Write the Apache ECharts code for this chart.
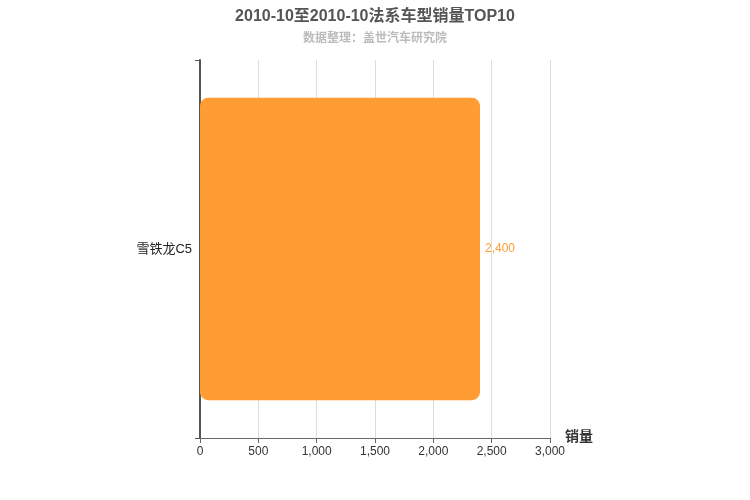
<!DOCTYPE html>
<html>
<head>
<meta charset="UTF-8">
<script src="https://cdn.jsdelivr.net/npm/echarts@6/dist/echarts.min.js"></script>
<style>html,body{margin:0;padding:0;background:#fff}#c{width:750px;height:500px}</style>
</head>
<body>
<div id="c"></div>
<script>
// data
var categories = ['雪铁龙C5'];
var sales = [2400];

var chart = echarts.init(document.getElementById('c'));
chart.setOption({
    textStyle: { fontFamily: 'Arial, "Noto Sans CJK SC", sans-serif' },
    title: {
        text: '2010-10至2010-10法系车型销量TOP10',
        subtext: '数据整理：盖世汽车研究院',
        left: 'center', top: 4,
        textStyle: { fontSize: 16, fontWeight: 'bold', color: '#555' },
        subtextStyle: { fontSize: 12, fontWeight: 'bold', color: '#bbb' },
        itemGap: 8
    },
    grid: { left: 200, right: 200, top: 60, bottom: 62 },
    xAxis: {
        type: 'value', min: 0, max: 3000, interval: 500,
        name: '销量', nameLocation: 'end', nameGap: 15,
        nameTextStyle: { fontSize: 14, fontWeight: 'bold', color: '#333', verticalAlign: 'top', padding: [-8, 0, 0, 0] },
        axisLine: { show: true, lineStyle: { color: '#666' } },
        axisTick: { show: true, lineStyle: { color: '#666' } },
        axisLabel: { color: '#333', fontSize: 12 },
        splitLine: { lineStyle: { color: '#ddd' } }
    },
    yAxis: {
        type: 'category', data: categories,
        axisLine: { lineStyle: { color: '#555', width: 2 } },
        axisTick: { show: true, length: 5 },
        axisLabel: { color: '#222', fontSize: 13 }
    },
    series: [{
        type: 'bar', data: sales, barWidth: '80%',
        itemStyle: { color: '#ff9c33', borderRadius: 8 },
        label: { show: true, position: 'right', color: '#ff9c33', fontSize: 12, formatter: function (p) { return p.value.toLocaleString('en-US'); } }
    }]
});
</script>
</body>
</html>
